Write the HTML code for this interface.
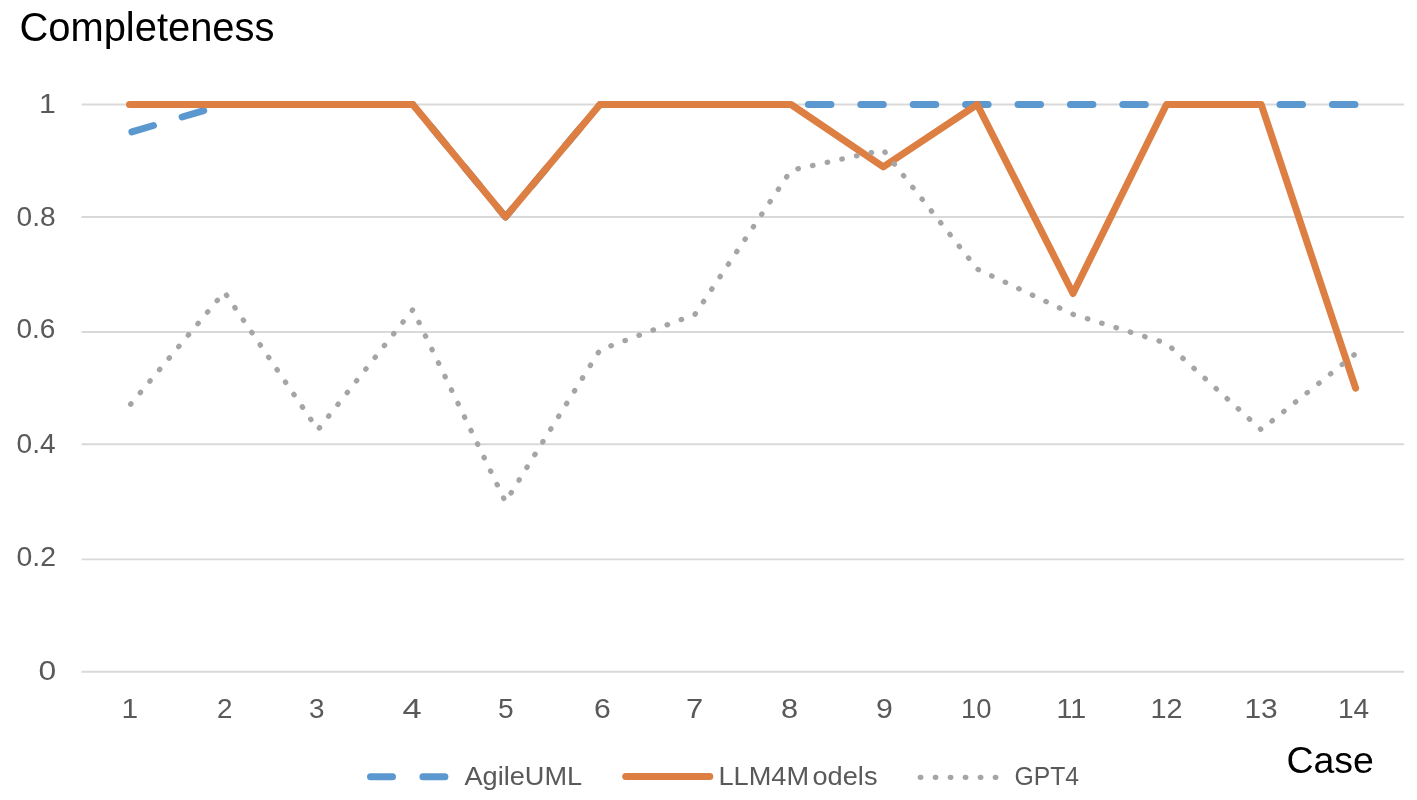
<!DOCTYPE html>
<html><head><meta charset="utf-8"><style>
html,body{margin:0;padding:0;background:#fff;}
body{width:1417px;height:800px;overflow:hidden;}
svg{display:block;}
text{font-family:"Liberation Sans",Arial,sans-serif;}
.ax{fill:#595959;}
.tt{fill:#000;}
</style></head><body>
<svg width="1417" height="800" viewBox="0 0 1417 800">
<rect width="1417" height="800" fill="#fff"/>
<line x1="81.5" y1="671.7" x2="1404.0" y2="671.7" stroke="#d9d9d9" stroke-width="1.9"/>
<line x1="81.5" y1="559.4" x2="1404.0" y2="559.4" stroke="#d9d9d9" stroke-width="1.9"/>
<line x1="81.5" y1="444.3" x2="1404.0" y2="444.3" stroke="#d9d9d9" stroke-width="1.9"/>
<line x1="81.5" y1="332.0" x2="1404.0" y2="332.0" stroke="#d9d9d9" stroke-width="1.9"/>
<line x1="81.5" y1="217.0" x2="1404.0" y2="217.0" stroke="#d9d9d9" stroke-width="1.9"/>
<line x1="81.5" y1="104.5" x2="1404.0" y2="104.5" stroke="#d9d9d9" stroke-width="1.9"/>
<text class="tt" x="19.50" y="41.30" font-size="40" textLength="254.90" lengthAdjust="spacingAndGlyphs">Completeness</text>
<text class="tt" x="1286.50" y="773.00" font-size="37.5" textLength="87.43" lengthAdjust="spacingAndGlyphs">Case</text>
<text class="ax" x="464.50" y="785.40" font-size="26.3" textLength="117.66" lengthAdjust="spacingAndGlyphs">AgileUML</text>
<text class="ax" x="718.50" y="785.00" font-size="26.3" textLength="90.59" lengthAdjust="spacingAndGlyphs">LLM4M</text>
<text class="ax" x="812.50" y="785.00" font-size="26.3" textLength="64.98" lengthAdjust="spacingAndGlyphs">odels</text>
<text class="ax" x="1014.50" y="785.00" font-size="26.3" textLength="64.59" lengthAdjust="spacingAndGlyphs">GPT4</text>
<text class="ax" x="39.00" y="113.00" font-size="28.4" textLength="16.76" lengthAdjust="spacingAndGlyphs">1</text>
<text class="ax" x="16.50" y="225.50" font-size="28.4" textLength="39.10" lengthAdjust="spacingAndGlyphs">0.8</text>
<text class="ax" x="16.50" y="338.00" font-size="28.4" textLength="38.90" lengthAdjust="spacingAndGlyphs">0.6</text>
<text class="ax" x="16.50" y="452.75" font-size="28.4" textLength="39.07" lengthAdjust="spacingAndGlyphs">0.4</text>
<text class="ax" x="16.50" y="565.50" font-size="28.4" textLength="39.52" lengthAdjust="spacingAndGlyphs">0.2</text>
<text class="ax" x="38.50" y="680.00" font-size="28.4" textLength="17.68" lengthAdjust="spacingAndGlyphs">0</text>
<text class="ax" x="121.50" y="718.00" font-size="28.4" textLength="16.66" lengthAdjust="spacingAndGlyphs">1</text>
<text class="ax" x="217.00" y="718.00" font-size="28.4" textLength="15.47" lengthAdjust="spacingAndGlyphs">2</text>
<text class="ax" x="309.00" y="718.00" font-size="28.4" textLength="15.47" lengthAdjust="spacingAndGlyphs">3</text>
<text class="ax" x="402.50" y="718.00" font-size="28.4" textLength="19.13" lengthAdjust="spacingAndGlyphs">4</text>
<text class="ax" x="498.00" y="718.00" font-size="28.4" textLength="15.67" lengthAdjust="spacingAndGlyphs">5</text>
<text class="ax" x="594.00" y="718.00" font-size="28.4" textLength="16.76" lengthAdjust="spacingAndGlyphs">6</text>
<text class="ax" x="686.00" y="718.00" font-size="28.4" textLength="17.21" lengthAdjust="spacingAndGlyphs">7</text>
<text class="ax" x="781.00" y="718.00" font-size="28.4" textLength="17.11" lengthAdjust="spacingAndGlyphs">8</text>
<text class="ax" x="876.00" y="718.00" font-size="28.4" textLength="16.85" lengthAdjust="spacingAndGlyphs">9</text>
<text class="ax" x="961.00" y="718.00" font-size="28.4" textLength="30.55" lengthAdjust="spacingAndGlyphs">10</text>
<text class="ax" x="1056.50" y="718.00" font-size="28.4" textLength="29.78" lengthAdjust="spacingAndGlyphs">11</text>
<text class="ax" x="1150.50" y="718.00" font-size="28.4" textLength="32.07" lengthAdjust="spacingAndGlyphs">12</text>
<text class="ax" x="1244.50" y="718.00" font-size="28.4" textLength="33.26" lengthAdjust="spacingAndGlyphs">13</text>
<text class="ax" x="1338.00" y="718.00" font-size="28.4" textLength="31.18" lengthAdjust="spacingAndGlyphs">14</text>
<polyline points="129.50,132.63 224.30,104.50 317.90,104.50 412.80,104.50 505.50,217.00 600.00,104.50 695.00,104.50 791.00,104.50 883.30,104.50 977.20,104.50 1073.00,104.50 1166.50,104.50 1261.20,104.50 1355.60,104.50" fill="none" stroke="#5B98CF" stroke-width="7" stroke-dasharray="22.5 29.9" stroke-dashoffset="-2.5" stroke-linecap="round" stroke-linejoin="round"/>
<polyline points="129.50,104.50 224.30,104.50 317.90,104.50 412.80,104.50 505.50,217.00 600.00,104.50 695.00,104.50 791.00,104.50 883.30,166.94 977.20,104.50 1073.00,293.48 1166.50,104.50 1261.20,104.50 1355.60,388.15" fill="none" stroke="#DD7E42" stroke-width="7" stroke-linejoin="round" stroke-linecap="round"/>
<polyline points="129.50,405.60 224.30,292.00 317.90,429.80 412.80,309.60 505.50,501.90 600.00,349.90 695.00,314.40 791.00,170.30 883.30,150.00 977.20,269.00 1073.00,314.30 1166.50,343.30 1261.20,429.70 1355.60,353.70" fill="none" stroke="#A5A5A5" stroke-width="5.3" stroke-dasharray="0.5 14.5" stroke-dashoffset="-1.75" stroke-linecap="round" stroke-linejoin="round"/>
<line x1="370.5" y1="776.8" x2="458" y2="776.8" stroke="#5B98CF" stroke-width="7" stroke-dasharray="22 30.4" stroke-linecap="round"/>
<line x1="625.7" y1="776.5" x2="709.8" y2="776.5" stroke="#DD7E42" stroke-width="7" stroke-linecap="round"/>
<line x1="920.3" y1="777.3" x2="1005" y2="777.3" stroke="#A5A5A5" stroke-width="5.3" stroke-dasharray="0.5 14.5" stroke-linecap="round"/>
</svg></body></html>
